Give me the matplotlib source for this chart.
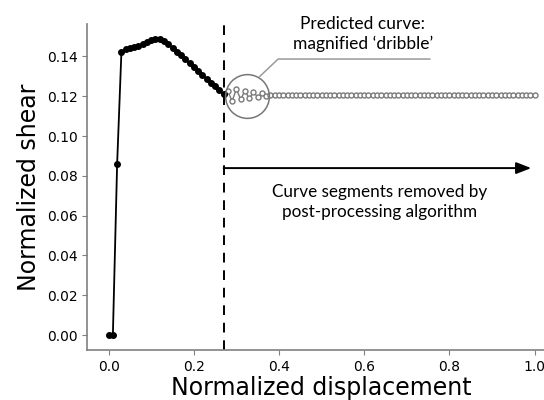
import matplotlib
matplotlib.use("Agg")
import matplotlib.pyplot as plt

# Measured (black) curve
meas_x = [0.00, 0.01, 0.02, 0.03, 0.04, 0.05, 0.06, 0.07, 0.08, 0.09, 0.10,
          0.11, 0.12, 0.13, 0.14, 0.15, 0.16, 0.17, 0.18, 0.19, 0.20, 0.21,
          0.22, 0.23, 0.24, 0.25, 0.26, 0.27]
meas_y = [0.0, 0.0, 0.086, 0.1420, 0.1437, 0.1443, 0.1448, 0.1454, 0.1462,
          0.1473, 0.1482, 0.1487, 0.1487, 0.1479, 0.1463, 0.1444, 0.1424,
          0.1405, 0.1386, 0.1366, 0.1347, 0.1327, 0.1308, 0.1288, 0.1269,
          0.1249, 0.1229, 0.1210]

# Predicted (grey) curve
pred_x = [0.27, 0.28, 0.29, 0.30, 0.31, 0.32, 0.33, 0.34, 0.35, 0.36, 0.37,
          0.38, 0.39, 0.40, 0.41, 0.42, 0.43, 0.44, 0.45, 0.46, 0.47, 0.48,
          0.49, 0.50, 0.51, 0.52, 0.53, 0.54, 0.55, 0.56, 0.57, 0.58, 0.59,
          0.60, 0.61, 0.62, 0.63, 0.64, 0.65, 0.66, 0.67, 0.68, 0.69, 0.70,
          0.71, 0.72, 0.73, 0.74, 0.75, 0.76, 0.77, 0.78, 0.79, 0.80, 0.81,
          0.82, 0.83, 0.84, 0.85, 0.86, 0.87, 0.88, 0.89, 0.90, 0.91, 0.92,
          0.93, 0.94, 0.95, 0.96, 0.97, 0.98, 0.99, 1.00]
pred_y = [0.1210, 0.1224, 0.1176, 0.1236, 0.1184, 0.1228, 0.1189, 0.1219,
          0.1197, 0.1214, 0.1203,
          0.1208, 0.1208, 0.1208, 0.1208, 0.1208, 0.1208, 0.1208, 0.1208,
          0.1208, 0.1208, 0.1208, 0.1208, 0.1208, 0.1208, 0.1208, 0.1208,
          0.1208, 0.1208, 0.1208, 0.1208, 0.1208, 0.1208, 0.1208, 0.1208,
          0.1208, 0.1208, 0.1208, 0.1208, 0.1208, 0.1208, 0.1208, 0.1208,
          0.1208, 0.1208, 0.1208, 0.1208, 0.1208, 0.1208, 0.1208, 0.1208,
          0.1208, 0.1208, 0.1208, 0.1208, 0.1208, 0.1208, 0.1208, 0.1208,
          0.1208, 0.1208, 0.1208, 0.1208, 0.1208, 0.1208, 0.1208, 0.1208,
          0.1208, 0.1208, 0.1208, 0.1208, 0.1208, 0.1208, 0.1208]

cut_x = 0.27
xlabel = "Normalized displacement"
ylabel = "Normalized shear"
note_top = "Predicted curve:\nmagnified \u2018dribble\u2019"
note_bottom = "Curve segments removed by\npost-processing algorithm"

fig = plt.figure(figsize=(5.44, 4.0), dpi=100)
ax = fig.add_axes([0.1605, 0.125, 0.8614, 0.815])

ax.plot(pred_x, pred_y, color="#7a7a7a", lw=1.0, marker="o", ms=3.6,
        mfc="white", mec="#7a7a7a", mew=1.0, zorder=2)
ax.plot(meas_x, meas_y, color="black", lw=1.3, marker="o", ms=4.0,
        mfc="black", mec="black", zorder=3)

ax.set_xlim(-0.05, 1.05)
ax.set_ylim(-0.0075, 0.1563)
ax.set_xticks([0.0, 0.2, 0.4, 0.6, 0.8, 1.0])
ax.set_yticks([0.00, 0.02, 0.04, 0.06, 0.08, 0.10, 0.12, 0.14])
ax.set_yticklabels(["0.00", "0.02", "0.04", "0.06", "0.08", "0.10", "0.12", "0.14"])

ax.axvline(cut_x, color="black", lw=1.4, ls=(0, (5, 4)), zorder=1)

# magnifier circle
ax.plot([0.324], [0.1200], marker="o", ms=31.5, mfc="none", mec="#777777",
        mew=1.1, zorder=4)
ax.plot([0.355, 0.398, 0.754], [0.1300, 0.1387, 0.1387], color="#9a9a9a",
        lw=1.1, zorder=4)
ax.text(0.597, 0.1514, note_top, ha="center", va="center", fontsize=12.5,
        family="Lato", linespacing=1.3)

ax.annotate("", xy=(0.992, 0.0839), xytext=(cut_x, 0.0839),
            arrowprops=dict(arrowstyle="-|>,head_length=0.9,head_width=0.35",
                            color="black", lw=1.4, shrinkA=0, shrinkB=0))
ax.text(0.636, 0.0667, note_bottom, ha="center", va="center", fontsize=12.3,
        family="Lato", linespacing=1.3)

for s in ["top", "right"]:
    ax.spines[s].set_visible(False)
for s in ["left", "bottom"]:
    ax.spines[s].set_color("#808080")
    ax.spines[s].set_linewidth(1.2)
ax.tick_params(colors="#808080", labelcolor="black", labelsize=10)

ax.set_xlabel(xlabel, fontsize=17, labelpad=2)
ax.set_ylabel(ylabel, fontsize=17)

fig.savefig("out.png", dpi=100)
